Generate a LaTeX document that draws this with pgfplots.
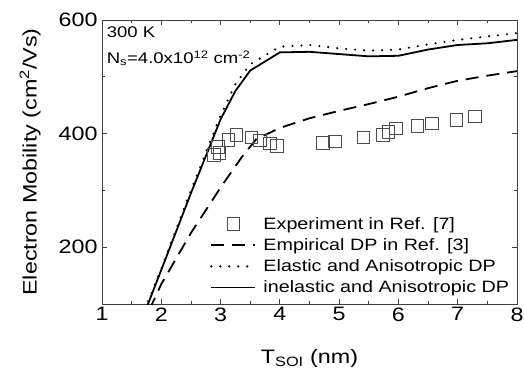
\documentclass[border=0pt]{standalone}
\usepackage{pgfplots}
\pgfplotsset{compat=1.18}
\usepackage{fontspec}
\setmainfont{Liberation Sans}[FakeStretch=1.2]
\begin{document}
\begin{tikzpicture}
\begin{axis}[
  scale only axis, width=415bp, height=284bp,
  at={(0,0)}, anchor=south west,
  xmin=1, xmax=8, ymin=100, ymax=600,
  xtick={1,2,...,8}, ytick={200,400,600},
  minor xtick={1.5,2.5,...,7.5}, minor ytick={300,500},
  tick align=inside, xtick pos=both, ytick pos=both,
  major tick length=5bp, minor tick length=3bp,
  axis line style={black!75, line width=0.8pt},
  every tick/.style={black!75, line width=0.8pt},
  /pgf/number format/assume math mode=true,
  ticklabel style={font=\fontsize{19.5}{21}\selectfont},
  xticklabel style={yshift=0bp},
  yticklabel style={xshift=-1bp},
  xlabel={T\textsubscript{SOI} (nm)},
  ylabel={Electron Mobility (cm\textsuperscript{2}/Vs)},
  label style={font=\fontsize{19.5}{21}\selectfont},
  xlabel style={at={(axis description cs:0.5,-0.208)}, anchor=base},
  ylabel style={at={(axis description cs:-0.173,0.5)}, anchor=center},
  clip=true,
  legend cell align=left,
  legend style={at={(rel axis cs:0.26,0.313)}, anchor=north west, draw=none, fill=none,
    font=\fontsize{16.5}{18}\selectfont, row sep=3.8bp, inner sep=0pt,
    /tikz/every odd column/.append style={column sep=5bp}},
  legend image code/.code={\draw[mark repeat=2,mark phase=2,#1] plot coordinates {(0bp,0bp) (22bp,0bp) (44bp,0bp)};},
]
\addplot[only marks, mark=square, mark size=6.3bp, mark options={draw=black!70, line width=0.9pt, fill=none}]
coordinates {
(2.89,362)(2.96,377)(2.98,366)(3.13,389)(3.27,398)(3.52,393)(3.66,388)(3.83,383)(3.95,378)
(4.73,384)(4.93,386)(5.41,393)(5.74,398)(5.83,403)(5.96,409)(6.32,413)(6.57,418)(6.98,424)(7.29,430)
};
\addlegendentry{Experiment in Ref. [7]}
\addplot[black, line width=1.8pt, dash pattern=on 13bp off 8bp]
coordinates {
(1.80,90)(2.0,135)(2.5,225)(3.0,305)(3.36,359)(3.6,390)(4.0,410)(4.5,427)(5.0,440)(5.5,452)(6.0,465)(6.5,480)(7.0,493)(7.5,502)(8.0,510)
};
\addlegendentry{Empirical DP in Ref. [3]}
\addplot[black, line width=2.4pt, line cap=round, dash pattern=on 0bp off 9bp]
coordinates {
(1.72,90)(2.0,162)(2.5,300)(3.0,432)(3.25,487)(3.5,522)(4.0,553)(4.5,556)(5.0,550)(5.5,546)(6.0,548)(6.5,557)(7.0,565)(7.5,571)(8.0,577)
};
\addlegendentry{Elastic and Anisotropic DP}
\addplot[black, line width=1.8pt]
coordinates {
(1.75,93)(2.0,160)(2.5,295)(3.0,425)(3.25,475)(3.5,511)(4.0,543)(4.5,544)(5.0,540)(5.5,536)(6.0,537)(6.5,548)(7.0,556)(7.5,559)(8.0,565)
};
\addlegendentry{inelastic and Anisotropic DP}
\node[anchor=north west, inner sep=0pt, font=\fontsize{15.5}{17}\selectfont] at (axis description cs:0.011,0.976) {300 K};
\node[anchor=north west, inner sep=0pt, font=\fontsize{15.5}{17}\selectfont] at (axis description cs:0.011,0.892) {N\textsubscript{s}=4.0x10\textsuperscript{12} cm\textsuperscript{-2}};
\end{axis}
\pgfresetboundingbox
\path (-102bp,-72bp) rectangle (422bp,304bp);
\end{tikzpicture}
\end{document}
